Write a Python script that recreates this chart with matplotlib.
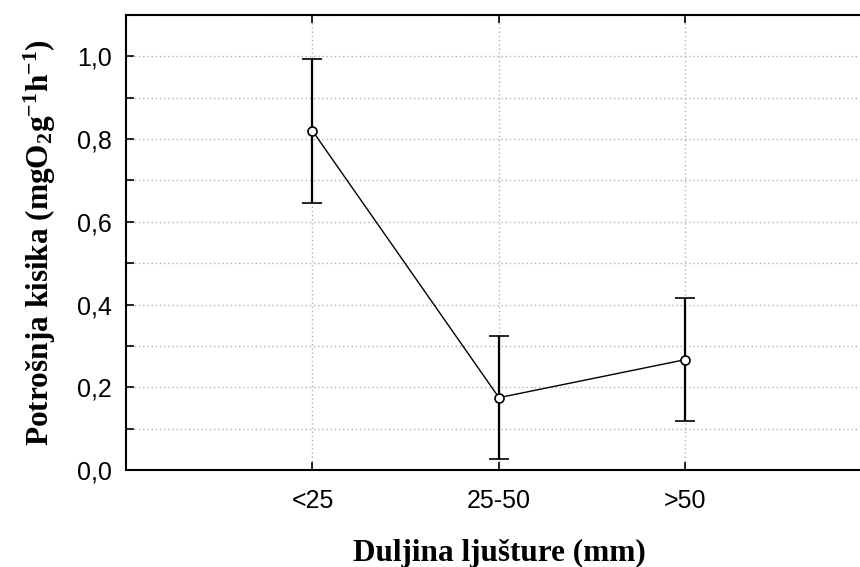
import matplotlib
matplotlib.use("Agg")
import matplotlib.pyplot as plt
from matplotlib.ticker import MultipleLocator, FuncFormatter

plt.rcParams["mathtext.fontset"] = "custom"
plt.rcParams["mathtext.rm"] = "Liberation Serif:bold"
plt.rcParams["mathtext.it"] = "Liberation Serif:bold"
plt.rcParams["mathtext.bf"] = "Liberation Serif:bold"
plt.rcParams["mathtext.default"] = "rm"

categories = ["<25", "25-50", ">50"]
means = [0.82, 0.175, 0.267]
errors = [0.174, 0.149, 0.148]

fig = plt.figure(figsize=(8.6, 5.67), dpi=100)
ax = fig.add_axes([0.1465, 0.171, 0.8674, 0.8025])

xpos = [1, 2, 3]
ax.errorbar(xpos, means, yerr=errors, color="black", lw=1.0, elinewidth=1.6,
            capsize=7, capthick=1.6, marker="o", markersize=6.5,
            markerfacecolor="white", markeredgecolor="black", markeredgewidth=1.2, zorder=3)

ax.set_xlim(0, 4)
ax.set_ylim(0, 1.1)
ax.set_xticks(xpos)
ax.set_xticklabels(categories, fontfamily="Liberation Sans", fontsize=18)
ax.yaxis.set_major_locator(MultipleLocator(0.2))
ax.yaxis.set_minor_locator(MultipleLocator(0.1))
ax.yaxis.set_major_formatter(FuncFormatter(lambda v, p: f"{v:.1f}".replace(".", ",")))
for lab in ax.get_yticklabels():
    lab.set_fontfamily("Liberation Sans")
    lab.set_fontsize(18)

ax.tick_params(axis="both", which="both", direction="in", length=6, width=1.2,
               top=True, right=False)
ax.tick_params(axis="y", which="both", pad=10)
ax.tick_params(axis="x", pad=14)
ax.grid(True, which="both", axis="y", linestyle=(0, (1, 2)), color="#b0b0b0", lw=1)
ax.grid(True, which="major", axis="x", linestyle=(0, (1, 2)), color="#b0b0b0", lw=1)
ax.set_axisbelow(True)
for s in ax.spines.values():
    s.set_linewidth(1.5)

ax.set_xlabel("Duljina ljušture (mm)", fontfamily="Liberation Serif", fontweight="bold",
              fontsize=22.5, labelpad=18)
ax.set_ylabel("Potrošnja kisika (mgO$_2$g$^{-1}$h$^{-1}$)", fontfamily="Liberation Serif",
              fontweight="bold", fontsize=22.5, labelpad=14)
fig.savefig("out.png", dpi=100)
